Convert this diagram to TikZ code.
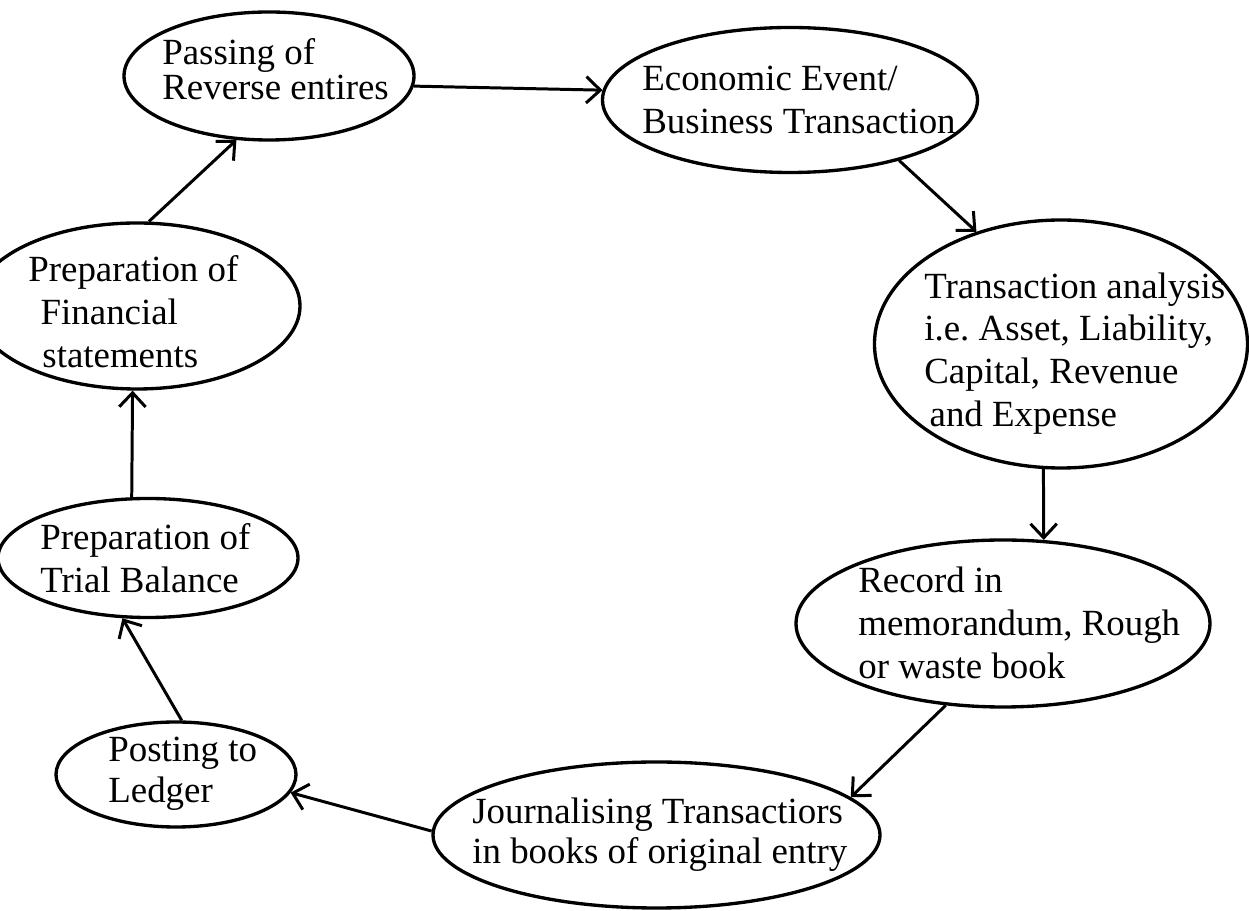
\documentclass[tikz,border=0pt]{standalone}
\usepackage{fontspec}
\setmainfont{Liberation Serif}
\usetikzlibrary{shapes.geometric,arrows.meta}
\frenchspacing
\tikzset{
  ell/.style={draw, ellipse, line width=1.9pt, inner sep=0pt},
  txt/.style={anchor=west, align=left, inner sep=0pt, font=\fontsize{21}{24.4}\selectfont},
  arr/.style={line width=1.7pt, -{Straight Barb[length=8pt,width=15pt]}}
}
\begin{document}
\begin{tikzpicture}[x=0.02cm,y=-0.02cm]
\clip (0,0) rectangle (1249,911);
% ellipses
\node[ell, minimum width=290*0.02cm, minimum height=128*0.02cm] (pass) at (269,76) {};
\node[ell, minimum width=375*0.02cm, minimum height=145*0.02cm] (econ) at (790,100) {};
\node[ell, minimum width=373*0.02cm, minimum height=248*0.02cm] (trans) at (1061,344) {};
\node[ell, minimum width=414*0.02cm, minimum height=167*0.02cm] (rec) at (1003,623.5) {};
\node[ell, minimum width=447*0.02cm, minimum height=146*0.02cm] (jour) at (656.5,835) {};
\node[ell, minimum width=240*0.02cm, minimum height=105*0.02cm] (post) at (176,774.5) {};
\node[ell, minimum width=300*0.02cm, minimum height=119*0.02cm] (trial) at (148,558) {};
\node[ell, minimum width=326*0.02cm, minimum height=166*0.02cm] (fin) at (137,306) {};
% texts
\node[txt, font=\fontsize{21}{20}\selectfont] (passT) at (162,69) {Passing of\\Reverse entires};
\node[txt] (econT) at (642,100) {Economic Event/\\Business Transaction};
\node[txt] (transT) at (924,353.5) {Transaction analysis\\i.e. Asset, Liability,\\Capital, Revenue\\\hspace*{3pt}and Expense};
\node[txt] (recT) at (858,623) {Record in\\memorandum, Rough\\or waste book};
\node[txt, font=\fontsize{21}{22.7}\selectfont] (jourT) at (472,834.5) {Journalising Transactiors\\in books of original entry};
\node[txt, font=\fontsize{21}{23.2}\selectfont] (postT) at (108,774) {Posting to\\Ledger};
\node[txt] (trialT) at (40,558) {Preparation of\\Trial Balance};
\node[txt] (finT) at (28,311.5) {Preparation of\\\hspace*{7pt}Financial\\\hspace*{8pt}statements};
% connectors
\draw[arr] (pass.-4) -- (econ.177);
\draw[arr] (econ.-29) -- (trans.127.5);
\draw[arr] (trans.-98) -- (rec.64);
\draw[arr] (rec.-125) -- (jour.11);
\draw[arr] (jour.179.5) -- (post.-9);
\draw[arr] (post.84) -- (trial.-113);
\draw[arr] (trial.105) -- (fin.-93);
\draw[arr] (fin.82.5) -- (pass.-117);
\end{tikzpicture}
\end{document}
